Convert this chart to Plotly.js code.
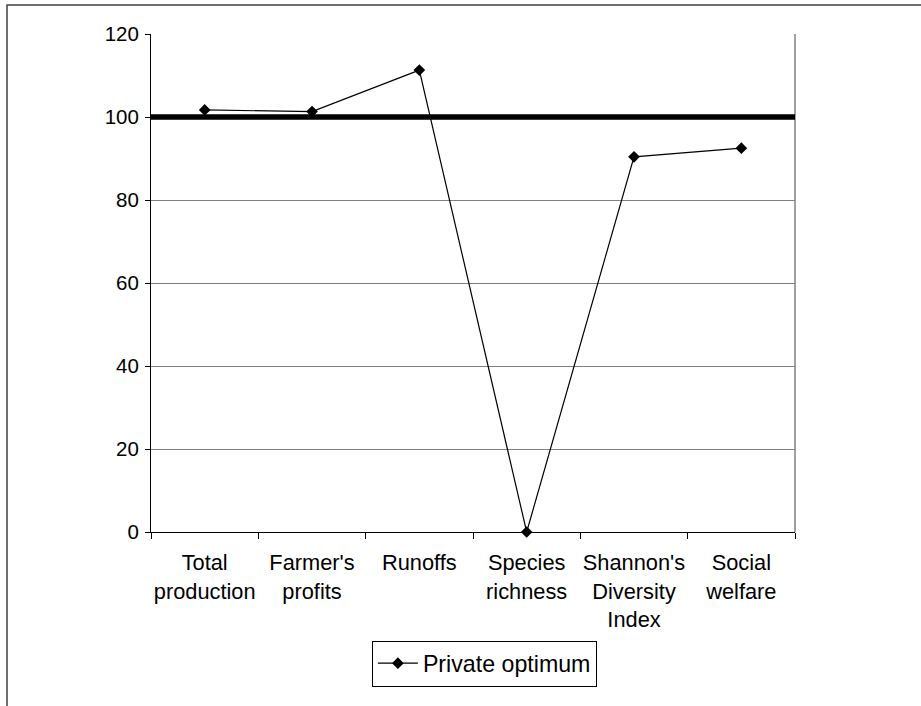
<!DOCTYPE html>
<html>
<head>
<meta charset="utf-8">
<script src="https://cdn.plot.ly/plotly-3.0.1.min.js"></script>
<style>
  html, body { margin: 0; padding: 0; background: #ffffff; }
  #chart { width: 921px; height: 706px; }
</style>
</head>
<body>
<div id="chart"></div>
<script>
// Indicator categories (line breaks as displayed under the axis)
const categories = [
  "Total<br>production",
  "Farmer's<br>profits",
  "Runoffs",
  "Species<br>richness",
  "Shannon's<br>Diversity<br>Index",
  "Social<br>welfare"
];

// Private optimum, expressed relative to the social optimum (= 100)
const privateOptimum = [101.7, 101.3, 111.3, 0, 90.4, 92.5];

// Reference level of the social optimum
const referenceLevel = 100;

const yTicks = [0, 20, 40, 60, 80, 100, 120];

const font = "Liberation Sans, Arial, sans-serif";

const traces = [{
  type: "scatter",
  mode: "lines+markers",
  name: "Private optimum",
  x: categories,
  y: privateOptimum,
  line: { color: "#000000", width: 1.2 },
  marker: { symbol: "diamond", size: 9, color: "#000000" },
  cliponaxis: false
}];

const layout = {
  width: 921,
  height: 706,
  margin: { l: 151, r: 126, t: 34, b: 174 },
  paper_bgcolor: "#ffffff",
  plot_bgcolor: "#ffffff",
  font: { family: font, color: "#000000" },
  showlegend: true,
  legend: {
    x: 0.343, y: -0.218, xanchor: "left", yanchor: "top",
    bordercolor: "#000000", borderwidth: 1,
    font: { family: font, size: 23.2, color: "#000000" },
    itemwidth: 40
  },
  xaxis: {
    type: "category",
    range: [-0.5, categories.length - 0.5],
    tickson: "boundaries",
    tickangle: 0,
    ticks: "outside", ticklen: 6, tickcolor: "#000000", tickwidth: 1,
    showline: true, linecolor: "#000000", linewidth: 1,
    showgrid: false, zeroline: false,
    tickfont: { family: font, size: 21.8, color: "#000000" },
    ticklabelstandoff: 11,
    fixedrange: true
  },
  yaxis: {
    range: [0, 120],
    tickvals: yTicks,
    ticktext: yTicks.map(String),
    ticks: "outside", ticklen: 5, tickcolor: "#000000", tickwidth: 1,
    showline: true, linecolor: "#000000", linewidth: 1,
    showgrid: true, gridcolor: "#808080", gridwidth: 1,
    zeroline: false,
    tickfont: { family: font, size: 20.5, color: "#000000" },
    ticklabelstandoff: 2,
    fixedrange: true
  },
  shapes: [
    // right edge of the plot area
    { type: "line", xref: "paper", yref: "paper", x0: 1, x1: 1, y0: 0, y1: 1,
      line: { color: "#808080", width: 1.5 }, layer: "below" },
    // social optimum baseline
    { type: "line", xref: "paper", yref: "y", x0: 0, x1: 1,
      y0: referenceLevel, y1: referenceLevel,
      line: { color: "#000000", width: 5.5 }, layer: "above" },
    // chart frame
    { type: "rect", xref: "paper", yref: "paper",
      x0: -0.2236, x1: 1.3, y0: -0.4, y1: 1.0582,
      line: { color: "#404040", width: 1.5 }, layer: "below" }
  ]
};

Plotly.newPlot("chart", traces, layout, { displayModeBar: false, staticPlot: true });
</script>
</body>
</html>
